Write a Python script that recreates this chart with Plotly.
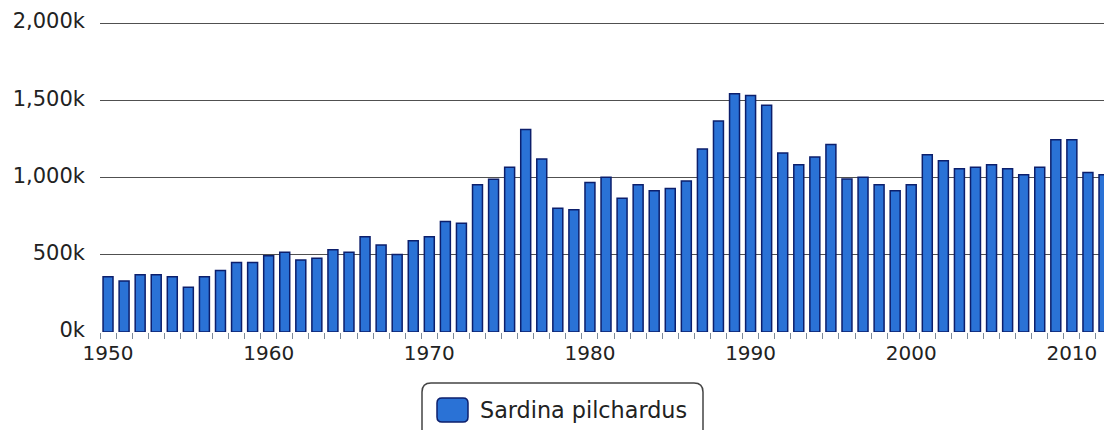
import plotly.graph_objects as go

years = list(range(1950, 2013))
catch_k = [
    357, 330, 371, 371, 357, 290, 357, 398, 450, 450,      # 1950-1959
    493, 516, 466, 477, 532, 516, 616, 563, 502, 590,      # 1960-1969
    616, 715, 704, 953, 989, 1067, 1311, 1119, 801, 791,   # 1970-1979
    968, 1002, 865, 953, 915, 928, 978, 1185, 1366, 1542,  # 1980-1989
    1531, 1467, 1159, 1082, 1133, 1213, 991, 1002, 953, 915,  # 1990-1999
    953, 1148, 1108, 1056, 1067, 1082, 1056, 1017, 1067, 1245,  # 2000-2009
    1245, 1033, 1017,                                      # 2010-2012
]
series_name = "Sardina pilchardus"
x_tick_vals = [1950, 1960, 1970, 1980, 1990, 2000, 2010]
x_tick_text = ["1950", "1960", "1970", "1980", "1990", "2000", "2010"]
y_tick_vals = [0, 500, 1000, 1500, 2000]
y_tick_text = ["0k", "500k", "1,000k", "1,500k", "2,000k"]

W, H = 1104, 430
ML, MR, MT, MB = 100, 0, 20, 98
PW, PH = W - ML - MR, H - MT - MB
Y_TOP = 2000 * (332 - MT) / 309.0  # 2000k gridline sits 3px below plot top

BAR_FILL = "#2a72d6"
BAR_LINE = "#0c1f6c"
FONT = "DejaVu Sans"


def px_x(px):
    return (px - ML) / PW


def px_y(py):
    return (H - MB - py) / PH


def rounded_rect(x0, y0, x1, y1, r):
    pts = [
        ("M", x0 + r, y0), ("L", x1 - r, y0), ("Q", x1, y0, x1, y0 + r),
        ("L", x1, y1 - r), ("Q", x1, y1, x1 - r, y1), ("L", x0 + r, y1),
        ("Q", x0, y1, x0, y1 - r), ("L", x0, y0 + r), ("Q", x0, y0, x0 + r, y0),
    ]
    parts = []
    for p in pts:
        cmd = p[0]
        coords = p[1:]
        s = []
        for i in range(0, len(coords), 2):
            s.append(f"{px_x(coords[i]):.5f},{px_y(coords[i+1]):.5f}")
        parts.append(cmd + " ".join(s))
    return " ".join(parts) + " Z"


fig = go.Figure()
fig.add_trace(go.Bar(
    x=years, y=catch_k, name=series_name,
    marker=dict(color=BAR_FILL, line=dict(color=BAR_LINE, width=1.5)),
    showlegend=False,
))

fig.update_layout(
    width=W, height=H,
    margin=dict(l=ML, r=MR, t=MT, b=MB, pad=0),
    paper_bgcolor="white", plot_bgcolor="white",
    bargap=0.38,
    font=dict(family=FONT, size=20, color="#222222"),
    xaxis=dict(
        range=[1949.5, 2012.0],
        tickvals=x_tick_vals, ticktext=x_tick_text,
        ticks="", showgrid=False, zeroline=False, showline=False,
        tickfont=dict(size=20, color="#222222"),
        minor=dict(tick0=0.5, dtick=1, ticks="outside", ticklen=6,
                   tickcolor="#7d8a99", tickwidth=1, showgrid=False),
        ticklabelstandoff=7,
    ),
    yaxis=dict(
        range=[0, Y_TOP],
        tickvals=y_tick_vals, ticktext=y_tick_text,
        ticks="", showgrid=True, gridcolor="#505050", gridwidth=1.2,
        zeroline=True, zerolinecolor="rgba(0,0,0,0)", zerolinewidth=1,
        showline=False,
        tickfont=dict(size=21, color="#222222"),
        ticklabelstandoff=14,
        ticklabelshift=-2,
    ),
    shapes=[
        dict(type="path", xref="paper", yref="paper",
             path=rounded_rect(422, 383, 703, 440, 9),
             line=dict(color="#444444", width=1.5), fillcolor="rgba(0,0,0,0)"),
        dict(type="path", xref="paper", yref="paper",
             path=rounded_rect(437, 398, 468, 422, 5),
             line=dict(color=BAR_LINE, width=1.5), fillcolor=BAR_FILL),
    ],
    annotations=[
        dict(xref="paper", yref="paper", x=px_x(478), y=px_y(410),
             xanchor="left", yanchor="middle", showarrow=False,
             text=series_name, font=dict(family=FONT, size=22.3, color="#222222")),
    ],
)

fig.write_html("out.html", config={"displayModeBar": False},
               post_script="document.body.style.margin='0';")
